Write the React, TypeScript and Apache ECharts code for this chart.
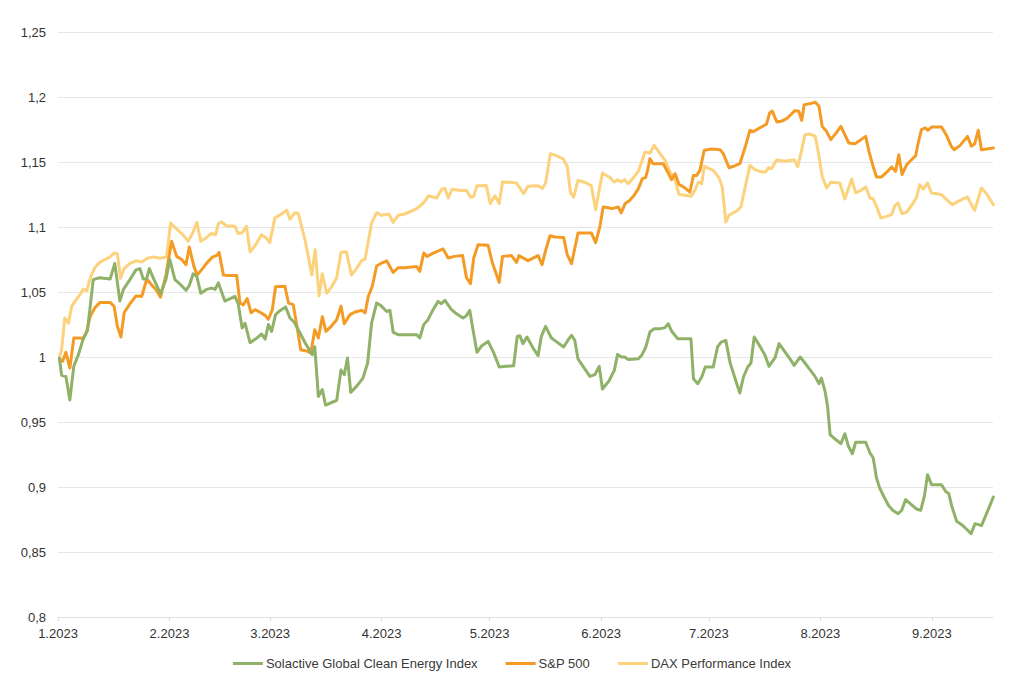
import React, { useEffect, useRef } from "react";
import * as echarts from "echarts";

// Series names (legend order)
const seriesNames = ["Solactive Global Clean Energy Index", "S&P 500", "DAX Performance Index"];
const seriesColors = ["#8fb268", "#f49b25", "#fcd27c"];

// Y axis bounds / ticks
const yMin = 0.8;
const yMax = 1.25;
const yStep = 0.05;

// X axis: days counted from 1 Jan 2023
const xStartYear = 2023;
const xEndDay = 260;

// Solactive Global Clean Energy Index
const cleanDays = [
  0.4, 1.0, 2.2, 3.3, 4.4, 5.7, 6.9, 8.2, 9.8, 11.5, 14.5, 15.8, 17.2, 18.2, 20.0, 21.7, 22.8, 23.7, 24.6, 25.4,
  26.7, 28.5, 30.0, 31.1, 32.5, 34.1, 35.6, 36.5, 37.6, 38.6, 39.7, 41.3, 42.7, 43.7, 44.6, 46.4, 49.2, 50.1, 51.2, 52.0,
  53.4, 55.3, 56.6, 57.6, 58.5, 59.4, 60.5, 61.7, 63.3, 64.5, 65.7, 67.3, 68.7, 70.7, 71.4, 72.4, 73.5, 74.4, 76.1, 77.5,
  78.7, 79.6, 80.5, 81.4, 83.0, 84.8, 86.1, 87.2, 88.6, 89.8, 91.4, 92.3, 93.2, 94.6, 97.4, 99.7, 100.6, 101.7, 102.9, 104.3,
  105.7, 106.6, 107.6, 109.4, 110.8, 112.6, 113.5, 114.5, 115.4, 116.5, 117.7, 119.6, 121.2, 122.7, 124.7, 126.7, 127.7, 128.4, 129.3, 130.4,
  132.1, 133.5, 134.4, 135.6, 137.2, 138.1, 140.6, 141.9, 142.8, 143.7, 144.6, 146.0, 147.9, 149.3, 150.5, 151.4, 153.2, 154.7, 155.6, 156.7,
  157.6, 158.6, 161.4, 162.3, 163.4, 164.6, 165.8, 167.6, 168.8, 169.7, 170.6, 172.3, 176.0, 176.7, 177.9, 179.0, 180.0, 182.2, 183.4, 184.4,
  185.7, 186.9, 188.3, 189.6, 190.6, 191.8, 192.7, 193.6, 195.2, 196.6, 197.7, 199.4, 200.5, 202.2, 203.5, 204.7, 206.4, 207.7, 209.1, 210.5,
  211.6, 212.3, 213.3, 214.0, 214.7, 216.1, 217.7, 218.8, 219.8, 220.9, 221.8, 224.6, 225.8, 226.7, 227.6, 228.5, 229.7, 231.0, 232.2, 233.6,
  234.6, 235.7, 237.3, 238.7, 239.9, 240.9, 241.8, 242.9, 245.7, 246.8, 247.7, 248.5, 249.9, 251.3, 252.6, 253.9, 255.0, 256.8, 258.2, 260.1,
];
const cleanValues = [
  0.999, 0.986, 0.985, 0.967, 0.993, 1.002, 1.013, 1.0205, 1.0595, 1.061, 1.06, 1.072, 1.043, 1.052, 1.0595, 1.067, 1.068, 1.06, 1.06, 1.068,
  1.0595, 1.0487, 1.0595, 1.075, 1.0595, 1.0556, 1.0513, 1.055, 1.064, 1.062, 1.049, 1.052, 1.053, 1.052, 1.057, 1.043, 1.0467, 1.041, 1.0223, 1.026,
  1.011, 1.0146, 1.0177, 1.0138, 1.025, 1.0197, 1.0326, 1.0356, 1.0385, 1.03, 1.0267, 1.0185, 1.011, 1.0018, 1.008, 0.9697, 0.975, 0.963, 0.965, 0.9667,
  0.99, 0.9864, 0.9992, 0.9728, 0.9774, 0.9838, 0.9954, 1.026, 1.0415, 1.0395, 1.035, 1.0359, 1.019, 1.0172, 1.0172, 1.0172, 1.0146, 1.0249, 1.0287, 1.0364,
  1.0428, 1.041, 1.0436, 1.0364, 1.0333, 1.03, 1.0315, 1.0359, 1.021, 1.0036, 1.0082, 1.012, 1.003, 0.9923, 0.9928, 0.9933, 1.0159, 1.0164, 1.0103, 1.0154,
  1.0069, 1.001, 1.0159, 1.0236, 1.0146, 1.0128, 1.0077, 1.0133, 1.0167, 1.0128, 0.9985, 0.9928, 0.9851, 0.9864, 0.9928, 0.9754, 0.9815, 0.9897, 1.002, 1.0,
  1.0, 0.998, 0.9987, 1.0013, 1.0072, 1.0192, 1.0218, 1.0218, 1.0226, 1.0256, 1.02, 1.0141, 1.0141, 0.9833, 0.9795, 0.9846, 0.9923, 0.9923, 1.0077, 1.0115,
  1.0128, 0.9954, 0.9833, 0.9723, 0.9846, 0.9923, 0.9954, 1.0154, 1.0082, 1.0013, 0.9928, 0.9995, 1.0103, 1.0038, 0.9987, 0.9936, 1.0, 0.9954, 0.9903, 0.9851,
  0.9795, 0.9838, 0.9736, 0.962, 0.9403, 0.9369, 0.9333, 0.941, 0.9313, 0.9256, 0.9344, 0.9344, 0.9262, 0.9223, 0.9069, 0.8992, 0.8923, 0.8856, 0.882, 0.8795,
  0.882, 0.8903, 0.8864, 0.8831, 0.882, 0.8928, 0.9095, 0.9018, 0.9018, 0.8967, 0.8949, 0.8856, 0.8736, 0.871, 0.8677, 0.8641, 0.8718, 0.8703, 0.8795, 0.8923,
];

// S&P 500
const spxDays = [
  0.4, 1.3, 2.2, 3.3, 4.4, 5.6, 7.0, 8.0, 8.9, 10.3, 11.7, 14.5, 15.6, 16.5, 17.5, 18.4, 20.0, 21.7, 23.3, 24.7,
  26.0, 27.2, 28.5, 30.0, 31.6, 33.0, 34.4, 35.6, 36.5, 37.8, 38.7, 39.9, 41.3, 43.0, 44.1, 44.8, 46.0, 47.4, 49.7, 50.6,
  51.5, 52.6, 53.7, 54.8, 56.4, 57.6, 58.5, 59.6, 60.5, 63.1, 64.1, 65.4, 66.3, 67.5, 69.1, 70.3, 71.4, 72.4, 73.5, 74.5,
  76.1, 77.5, 78.7, 79.6, 81.2, 82.6, 84.4, 85.4, 86.3, 87.4, 88.6, 90.0, 91.4, 93.2, 94.6, 96.4, 98.3, 99.7, 100.6, 101.7,
  102.6, 104.8, 107.1, 108.5, 110.3, 112.5, 113.6, 114.7, 115.6, 116.8, 119.6, 120.8, 122.7, 123.6, 126.1, 127.5, 128.2, 129.3, 130.7, 133.5,
  134.6, 135.6, 136.8, 138.2, 140.6, 141.6, 142.8, 144.6, 148.3, 149.5, 150.7, 151.6, 153.0, 154.0, 155.8, 156.6, 157.7, 158.8, 160.0, 161.4,
  162.5, 163.4, 164.0, 164.6, 165.5, 168.3, 169.7, 170.6, 171.6, 172.7, 174.2, 175.7, 176.7, 177.6, 178.5, 179.7, 181.8, 184.1, 185.0, 186.6,
  187.8, 189.6, 191.1, 192.4, 193.3, 194.7, 197.0, 197.9, 198.6, 199.9, 201.3, 202.6, 204.9, 206.0, 206.8, 207.5, 209.1, 210.6, 211.6, 212.5,
  213.7, 214.9, 216.5, 217.7, 218.8, 219.9, 221.6, 223.3, 224.6, 225.5, 226.7, 227.6, 229.0, 230.7, 231.8, 232.9, 233.8, 234.7, 236.0, 237.2,
  238.5, 239.2, 240.1, 241.2, 241.9, 242.9, 245.7, 247.1, 248.5, 249.2, 250.8, 252.9, 254.0, 254.9, 255.9, 256.8, 258.2, 260.1,
];
const spxValues = [
  0.998, 0.9967, 1.0036, 0.9915, 1.0146, 1.0146, 1.0144, 1.0197, 1.031, 1.038, 1.042, 1.042, 1.039, 1.0236, 1.0154, 1.034, 1.041, 1.047, 1.0467, 1.06,
  1.0556, 1.052, 1.046, 1.063, 1.089, 1.0774, 1.075, 1.071, 1.0846, 1.0697, 1.063, 1.067, 1.072, 1.077, 1.078, 1.0805, 1.063, 1.0626, 1.0626, 1.0415,
  1.04, 1.045, 1.034, 1.0364, 1.034, 1.032, 1.029, 1.0364, 1.054, 1.0544, 1.0415, 1.0403, 1.026, 1.0056, 1.0046, 1.003, 1.021, 1.0146, 1.031, 1.0197,
  1.024, 1.0287, 1.039, 1.0256, 1.0326, 1.0346, 1.0359, 1.034, 1.0467, 1.0544, 1.07, 1.0723, 1.074, 1.065, 1.0687, 1.0687, 1.0692, 1.0697, 1.0659, 1.08,
  1.0774, 1.0805, 1.0831, 1.0762, 1.0774, 1.078, 1.0608, 1.0564, 1.076, 1.0864, 1.0859, 1.0723, 1.0574, 1.0774, 1.078, 1.0728, 1.078, 1.0762, 1.0741, 1.078,
  1.071, 1.082, 1.0933, 1.0923, 1.092, 1.0787, 1.0718, 1.0954, 1.0954, 1.088, 1.1005, 1.1154, 1.1148, 1.1141, 1.1154, 1.1108, 1.118, 1.12, 1.1236, 1.1295,
  1.1372, 1.138, 1.1441, 1.1526, 1.1487, 1.1487, 1.1415, 1.1364, 1.141, 1.1328, 1.1303, 1.1269, 1.1397, 1.1397, 1.1436, 1.159, 1.16, 1.1595, 1.1564, 1.1456,
  1.1467, 1.1487, 1.1615, 1.1744, 1.1733, 1.1756, 1.179, 1.1877, 1.1892, 1.1808, 1.1815, 1.1833, 1.1895, 1.189, 1.182, 1.1941, 1.1949, 1.1959, 1.1928, 1.1774,
  1.1736, 1.1672, 1.1728, 1.1774, 1.171, 1.1646, 1.1641, 1.1672, 1.1697, 1.1582, 1.1462, 1.1385, 1.1385, 1.1428, 1.1462, 1.1428, 1.1556, 1.1403, 1.148, 1.1513,
  1.1549, 1.1646, 1.1749, 1.1762, 1.1744, 1.1769, 1.1769, 1.1703, 1.1615, 1.1595, 1.1626, 1.1697, 1.1621, 1.164, 1.1744, 1.1595, 1.16, 1.1608,
];

// DAX Performance Index
const daxDays = [
  0.4, 1.0, 1.9, 2.9, 3.8, 5.0, 6.1, 7.0, 8.0, 9.1, 10.3, 11.7, 13.1, 14.5, 15.6, 16.5, 17.4, 18.4, 20.0, 21.7,
  23.3, 24.8, 26.5, 28.4, 30.2, 31.3, 33.2, 34.8, 36.2, 37.4, 38.6, 39.7, 41.3, 42.7, 43.8, 44.6, 45.5, 46.7, 49.2, 50.1,
  51.2, 52.4, 53.4, 54.8, 56.6, 58.0, 58.9, 60.3, 62.2, 63.6, 64.5, 65.9, 66.8, 68.7, 70.6, 71.5, 72.6, 73.5, 74.7, 76.1,
  77.5, 78.7, 80.2, 81.6, 83.0, 84.4, 85.4, 87.2, 88.6, 90.0, 92.0, 93.2, 94.6, 96.4, 99.2, 100.6, 102.0, 103.0, 105.3, 106.7,
  107.6, 108.5, 109.6, 111.8, 113.6, 114.7, 115.6, 116.5, 119.1, 120.2, 121.5, 122.7, 123.6, 125.6, 127.5, 129.5, 130.7, 133.5, 134.7, 135.6,
  136.9, 138.6, 140.5, 141.6, 142.5, 143.4, 144.6, 146.5, 148.3, 149.5, 151.4, 152.3, 153.5, 154.7, 155.6, 156.6, 157.5, 158.6, 160.0, 161.4,
  162.3, 163.2, 164.6, 165.8, 167.4, 168.8, 170.2, 171.6, 172.7, 174.3, 176.0, 177.1, 178.1, 179.0, 179.7, 182.2, 183.8, 184.7, 185.7, 186.6,
  188.7, 189.9, 191.1, 192.4, 193.8, 195.7, 196.8, 197.5, 198.4, 199.9, 201.3, 202.7, 204.7, 205.7, 206.6, 207.7, 209.1, 210.6, 211.6, 212.5,
  213.7, 214.9, 217.4, 218.8, 219.7, 220.7, 221.8, 223.3, 224.6, 225.8, 226.7, 227.6, 228.8, 230.4, 231.8, 232.7, 233.6, 234.7, 236.0, 237.3,
  238.7, 239.6, 240.6, 241.8, 242.9, 244.3, 245.7, 247.1, 248.7, 250.3, 252.9, 254.0, 254.9, 256.8, 258.2, 260.1,
];
const daxValues = [
  1.0, 1.0056, 1.03, 1.026, 1.039, 1.044, 1.048, 1.052, 1.051, 1.062, 1.069, 1.073, 1.075, 1.077, 1.08, 1.0795, 1.0605, 1.068, 1.072, 1.074,
  1.073, 1.076, 1.077, 1.076, 1.077, 1.103, 1.098, 1.094, 1.089, 1.095, 1.1036, 1.089, 1.092, 1.095, 1.094, 1.1026, 1.104, 1.101, 1.1005, 1.095,
  1.0955, 1.1005, 1.081, 1.0856, 1.094, 1.0913, 1.088, 1.107, 1.11, 1.113, 1.106, 1.111, 1.1105, 1.09, 1.063, 1.0826, 1.047, 1.064, 1.049, 1.054,
  1.061, 1.0805, 1.081, 1.063, 1.068, 1.074, 1.0754, 1.103, 1.111, 1.109, 1.11, 1.1036, 1.109, 1.11, 1.1133, 1.1159, 1.1197, 1.124, 1.1223, 1.129,
  1.1297, 1.1223, 1.129, 1.128, 1.128, 1.1228, 1.1236, 1.1318, 1.132, 1.118, 1.124, 1.118, 1.1346, 1.1344, 1.1338, 1.1256, 1.1313, 1.1318, 1.1297, 1.1338,
  1.1564, 1.1549, 1.1523, 1.1467, 1.1267, 1.123, 1.1359, 1.1344, 1.1318, 1.1133, 1.1415, 1.14, 1.138, 1.1346, 1.1364, 1.1346, 1.1364, 1.1333, 1.138, 1.143,
  1.15, 1.1577, 1.157, 1.1628, 1.1564, 1.1513, 1.1423, 1.1359, 1.1251, 1.1244, 1.1236, 1.1282, 1.1346, 1.1333, 1.1467, 1.1436, 1.138, 1.1308, 1.1038, 1.109,
  1.1123, 1.1154, 1.1308, 1.1474, 1.1441, 1.1423, 1.1423, 1.1456, 1.1449, 1.1518, 1.1508, 1.1508, 1.1518, 1.1462, 1.1569, 1.171, 1.1715, 1.1697, 1.1544, 1.139,
  1.13, 1.1344, 1.1338, 1.1215, 1.1287, 1.1369, 1.1262, 1.1282, 1.1308, 1.1223, 1.1215, 1.1159, 1.1069, 1.1082, 1.1095, 1.1164, 1.1185, 1.1103, 1.1113, 1.1164,
  1.1223, 1.1326, 1.1292, 1.1338, 1.1262, 1.1256, 1.1249, 1.121, 1.1172, 1.1197, 1.1231, 1.1172, 1.1128, 1.13, 1.1256, 1.1172,
];

const DAY_MS = 86400000;
const t0 = new Date(xStartYear, 0, 1).getTime();
const toPoints = (days: number[], values: number[]) => days.map((d, i) => [t0 + d * DAY_MS, values[i]]);

const FONT = "'Liberation Sans', Arial, Helvetica, sans-serif";

export default function App() {
  const ref = useRef<HTMLDivElement>(null);

  useEffect(() => {
    if (!ref.current) return;
    const chart = echarts.init(ref.current, null, { renderer: "svg" });
    const data = [toPoints(cleanDays, cleanValues), toPoints(spxDays, spxValues), toPoints(daxDays, daxValues)];
    chart.setOption({
      animation: false,
      backgroundColor: "#ffffff",
      textStyle: { fontFamily: FONT },
      grid: { left: 58, right: 31, top: 32, bottom: 76, containLabel: false },
      legend: {
        data: seriesNames,
        top: 652,
        left: "center",
        icon: "rect",
        itemWidth: 30,
        itemHeight: 3,
        itemGap: 28,
        textStyle: { fontFamily: FONT, fontSize: 13, color: "#3a3a3a", padding: [0, 0, 0, -2] },
      },
      xAxis: {
        type: "time",
        min: t0,
        max: t0 + xEndDay * DAY_MS,
        splitNumber: 9,
        minInterval: 30 * DAY_MS,
        maxInterval: 31 * DAY_MS,
        axisLine: { show: true, lineStyle: { color: "#e0e0e0", width: 1 } },
        axisTick: { show: true, length: 4, lineStyle: { color: "#d9d9d9" } },
        splitLine: { show: false },
        axisLabel: {
          fontFamily: FONT,
          fontSize: 13,
          color: "#333333",
          margin: 10,
          hideOverlap: false,
          formatter: (value: number) => {
            const d = new Date(value);
            return `${d.getMonth() + 1}.${d.getFullYear()}`;
          },
        },
      },
      yAxis: {
        type: "value",
        min: yMin,
        max: yMax,
        interval: yStep,
        axisLine: { show: false },
        axisTick: { show: false },
        splitLine: { show: true, lineStyle: { color: "#e6e6e6", width: 1 } },
        axisLabel: {
          fontFamily: FONT,
          fontSize: 13,
          color: "#333333",
          margin: 12,
          formatter: (v: number) => String(Number(v.toFixed(2))).replace(".", ","),
        },
      },
      series: seriesNames.map((name, i) => ({
        name,
        type: "line",
        data: data[i],
        symbol: "none",
        showSymbol: false,
        z: 3 - i,
        lineStyle: { color: seriesColors[i], width: 3, join: "round", cap: "round" },
        itemStyle: { color: seriesColors[i] },
      })),
    });
    return () => chart.dispose();
  }, []);

  return <div ref={ref} style={{ position: "fixed", left: 0, top: 0, width: 1024, height: 693 }} />;
}
